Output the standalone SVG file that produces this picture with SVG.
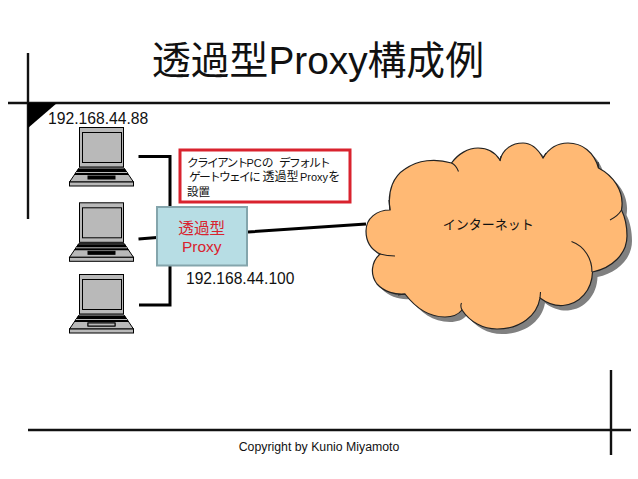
<svg xmlns="http://www.w3.org/2000/svg" xmlns:xlink="http://www.w3.org/1999/xlink" width="638" height="479" viewBox="0 0 638 479">
<style>
text{font-family:"Liberation Sans","Noto Sans CJK JP",sans-serif;fill:#111}
.rule{stroke:#111;stroke-width:2.400;fill:none}
.conn{stroke:#000;stroke-width:3;fill:none}
.hook{stroke:#222;stroke-width:1.100;fill:none}
.k{font-size:11.800px;letter-spacing:-1.800px}
.red{fill:#d9232e}
</style>
<defs>
<g id="laptop">
<rect x="79.500" y="127.500" width="44" height="39.500" fill="#b9b9b9" stroke="#000" stroke-width="1"/>
<rect x="82.500" y="132.500" width="39" height="30" fill="#b9b9b9" stroke="#000" stroke-width="1"/>
<path d="M79 168H124L133.500 182H69.500Z" fill="#b9b9b9" stroke="#000"/>
<path d="M78 169H125L129 175H74Z" fill="#000"/>
<path d="M76 172.500H127" stroke="#b9b9b9" stroke-width="1"/>
<rect x="88" y="176" width="27" height="3" fill="#000" stroke="#000" stroke-width="1"/>
<rect x="69.500" y="182" width="64" height="4" fill="#b9b9b9" stroke="#000" stroke-width="1"/>
</g>
<path id="cloud" d="M390 210C377 210 366 218 366 231C366 242 372 250 380 254C371 262 370 275 377 284C384 292 396 295 405 294C415 307 428 317 445 317C452 317 458 315 462 310C470 322 483 329 497 329C520 329 537 316 540 298C548 304 556 306 563 305.500C580 304 592 290 592.500 272C612 268 627 254 627 236C627 226 625 217 621.500 210C625 190 612 175 598.500 168C594 152 582 143 568 143C558 143 549 148 543 158C538 149 532 143 523 143C512 143 503 149 500 160C495 152 487 148 478 148C468 148 458 154 451.500 163C435 158 418 160 405 169C394 176 387 190 390 210Z"/>
</defs>
<g id="frame">
<path class="rule" d="M28 53V219M8 103H610M28 430H631M611 370V455"/>
<path d="M28 103H57L28 128Z" fill="#000"/>
</g>
<text x="152" y="73.500" font-size="38.800">透過型Proxy構成例</text>
<text x="48" y="124" font-size="15.700">192.168.44.88</text>
<g id="connectors">
<path class="conn" d="M138.500 156.500H170V207M170 265V305H139M138.500 239L157 237.500M248 232L366 224"/>
</g>
<g id="laptop1"><use href="#laptop" xlink:href="#laptop"/></g>
<g id="laptop2"><use href="#laptop" xlink:href="#laptop" y="75.300"/></g>
<g id="laptop3"><use href="#laptop" xlink:href="#laptop" y="147"/><rect x="88" y="323" width="27" height="3" fill="#b9b9b9" stroke="#000" stroke-width="1"/></g>
<g id="note">
<rect x="180" y="150" width="170" height="52" fill="#fff" stroke="#d9232e" stroke-width="3"/>
<text x="187" y="167" font-size="11"><tspan class="k">クライアント</tspan><tspan x="246.500">PC</tspan><tspan class="k">の</tspan><tspan class="k" x="279">デフォルト</tspan></text>
<text x="189" y="181" font-size="11"><tspan class="k">ゲートウェイに</tspan><tspan font-size="12" x="262.500">透過型</tspan><tspan x="300">Proxy</tspan><tspan font-size="12">を</tspan></text>
<text x="187" y="196" font-size="11.500">設置</text>
</g>
<g id="proxy">
<rect x="157" y="207" width="90" height="58.500" fill="#b7dde4" stroke="#84a5ac" stroke-width="2"/>
<text x="201.700" y="233.500" font-size="15.600" text-anchor="middle" class="red">透過型</text>
<text x="201.700" y="252" font-size="15.500" text-anchor="middle" class="red">Proxy</text>
</g>
<text x="186" y="284" font-size="15.600">192.168.44.100</text>
<g id="internet">
<use href="#cloud" xlink:href="#cloud" x="5" y="5" fill="#808080"/>
<use href="#cloud" xlink:href="#cloud" fill="#ffb974" stroke="#222" stroke-width="1.200"/>
<path class="hook" d="M451.500 163Q456 165 458.500 171.500M390 210L389 200M380 254Q387 256 395 256M405 294L398 295M462 310Q460 306 461.500 303M540 298L540.500 292M571.500 241.500C584 246 592 258 592 272M610 220Q618 216 621.500 210M598.500 168L598 162M543 158L546 153M500 161L501 156"/>
<text x="442.700" y="229" font-size="13">インターネット</text>
</g>
<text x="319" y="451" font-size="12.300" text-anchor="middle">Copyright by Kunio Miyamoto</text>
</svg>
